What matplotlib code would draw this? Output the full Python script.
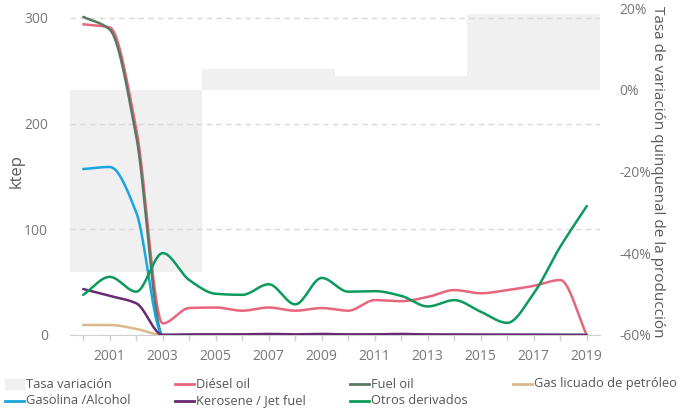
import numpy as np
import matplotlib
matplotlib.use("Agg")
import matplotlib.pyplot as plt
from matplotlib.lines import Line2D
from matplotlib.patches import Rectangle
from matplotlib.ticker import FixedLocator, FuncFormatter

plt.rcParams['font.family'] = ['Open Sans', 'DejaVu Sans']

# Annual production by product (ktep)
years = list(range(2000, 2020))
diesel = [294, 291, 195, 11, 25.5, 26, 23, 26, 23, 25.5, 23, 33, 32, 36, 42.5, 39.5, 42.5, 46.5, 52, 0]
fuel_oil = [301, 289, 188, 0, 0, 0, 0, 0, 0, 0, 0, 0, 0, 0, 0, 0, 0, 0, 0, 0]
glp = [9.5, 9.5, 5.8, 0, 0, 0, 0, 0, 0, 0, 0, 0, 0, 0, 0, 0, 0, 0, 0, 0]
gasolina = [157, 159, 116, 0, 0, 0, 0, 0, 0, 0, 0, 0, 0, 0, 0, 0, 0, 0, 0, 0]
kerosene = [43.5, 37, 30, 0, 0.5, 0.5, 0.6, 1, 0.6, 1, 0.5, 0.6, 1, 0.5, 0.5, 0.3, 0.3, 0.2, 0, 0]
otros = [38, 55, 41, 77.5, 52, 39, 38, 48, 29, 54, 41, 41.5, 37, 27, 33, 22, 11.5, 39.5, 83.5, 122]

# Five-year variation rate of production (%)
periods = [2002, 2007, 2012, 2017]
tasa = [-44.5, 5.1, 3.4, 18.5]

series = [
    ("Diésel oil", diesel, "#E8657E"),
    ("Fuel oil", fuel_oil, "#5B7862"),
    ("Gas licuado de petróleo", glp, "#D8B98C"),
    ("Gasolina /Alcohol", gasolina, "#19A5DF"),
    ("Kerosene / Jet fuel", kerosene, "#6A2A72"),
    ("Otros derivados", otros, "#0C9A5C"),
]
bar_color = "#F0F0F0"
text_color = "#777777"
label_color = "#5A5A5A"


def pchip(x, y, num=40):
    """Monotone cubic Hermite interpolation (Fritsch-Carlson)."""
    x = np.asarray(x, float)
    y = np.asarray(y, float)
    h = np.diff(x)
    delta = np.diff(y) / h
    d = np.zeros_like(y)
    for k in range(1, len(x) - 1):
        if delta[k - 1] * delta[k] <= 0:
            d[k] = 0.0
        else:
            w1 = 2 * h[k] + h[k - 1]
            w2 = h[k] + 2 * h[k - 1]
            d[k] = (w1 + w2) / (w1 / delta[k - 1] + w2 / delta[k])
    d[0] = delta[0]
    d[-1] = delta[-1]
    xs, ys = [], []
    for k in range(len(x) - 1):
        t = np.linspace(0, 1, num, endpoint=False)
        h00 = 2 * t**3 - 3 * t**2 + 1
        h10 = t**3 - 2 * t**2 + t
        h01 = -2 * t**3 + 3 * t**2
        h11 = t**3 - t**2
        xs.append(x[k] + t * h[k])
        ys.append(h00 * y[k] + h10 * h[k] * d[k] + h01 * y[k + 1] + h11 * h[k] * d[k + 1])
    xs.append([x[-1]])
    ys.append([y[-1]])
    return np.concatenate(xs), np.concatenate(ys)


W, H = 680, 412
fig = plt.figure(figsize=(W / 100, H / 100), dpi=100)
ax = fig.add_axes([70 / W, 77 / H, 530 / W, 327 / H])
ax2 = ax.twinx()

# Bars on the secondary axis, lines on top
ax2.bar(periods, tasa, width=5, color=bar_color, zorder=1)
ax.set_zorder(ax2.get_zorder() + 1)
ax.patch.set_visible(False)

for name, vals, color in series:
    xs, ys = pchip(years, vals)
    ax.plot(xs, ys, color=color, lw=1.8, solid_capstyle="round", zorder=3)

ax.set_xlim(1999.5, 2019.5)
ax.set_ylim(0, 309.4)
ax2.set_ylim(-60, 20)

# Left axis
ax.set_yticks([0, 100, 200, 300])
ax.tick_params(axis="y", length=0, pad=16, labelsize=10, labelcolor=text_color)
ax.yaxis.grid(True, color="#D9D9D9", lw=1, linestyle=(0, (4, 3)))
ax.set_axisbelow(False)
ax.set_ylabel("ktep", fontsize=12, color=label_color, va="center")
ax.yaxis.set_label_coords(-53 / 530, 0.5)

# X axis
ax.xaxis.set_major_locator(FixedLocator([y for y in years if y % 2 == 1]))
ax.xaxis.set_minor_locator(FixedLocator([y for y in years if y % 2 == 0]))
ax.tick_params(axis="x", which="both", length=4, color="#D0D0D0", width=1,
               pad=6, labelsize=10, labelcolor=text_color)
for side in ["top", "right", "left"]:
    ax.spines[side].set_visible(False)
    ax2.spines[side].set_visible(False)
ax.spines["bottom"].set_color("#D0D0D0")
ax2.spines["bottom"].set_visible(False)

# Right axis
ax2.set_yticks([-60, -40, -20, 0, 20])
ax2.yaxis.set_major_formatter(FuncFormatter(lambda v, p: f"{v:.0f}%"))
ax2.tick_params(axis="y", length=0, pad=14, labelsize=10, labelcolor=text_color)
ax2.set_ylabel("Tasa de variación quinquenal de la producción", rotation=270,
               fontsize=11, color=label_color, va="center")
ax2.yaxis.set_label_coords(58 / 530 + 1, 0.5)

# Legend
legend_items = [
    ("Tasa variación", None, 5, 384),
    ("Diésel oil", "#E8657E", 175, 384),
    ("Fuel oil", "#5B7862", 350, 384),
    ("Gas licuado de petróleo", "#D8B98C", 513, 384),
    ("Gasolina /Alcohol", "#19A5DF", 5, 401),
    ("Kerosene / Jet fuel", "#6A2A72", 175, 401),
    ("Otros derivados", "#0C9A5C", 350, 401),
]
for label, color, x0, y0 in legend_items:
    yf = 1 - y0 / H
    if color is None:
        fig.add_artist(Rectangle((x0 / W, 1 - (y0 + 5) / H), 19 / W, 10 / H,
                                 transform=fig.transFigure, color=bar_color))
    else:
        fig.add_artist(Line2D([x0 / W, (x0 + 19) / W], [yf, yf],
                              transform=fig.transFigure, color=color, lw=2))
    fig.text((x0 + 21) / W, yf, label, fontsize=9.3, color="#555555",
             va="center", ha="left")

fig.savefig("out.png", dpi=100)
